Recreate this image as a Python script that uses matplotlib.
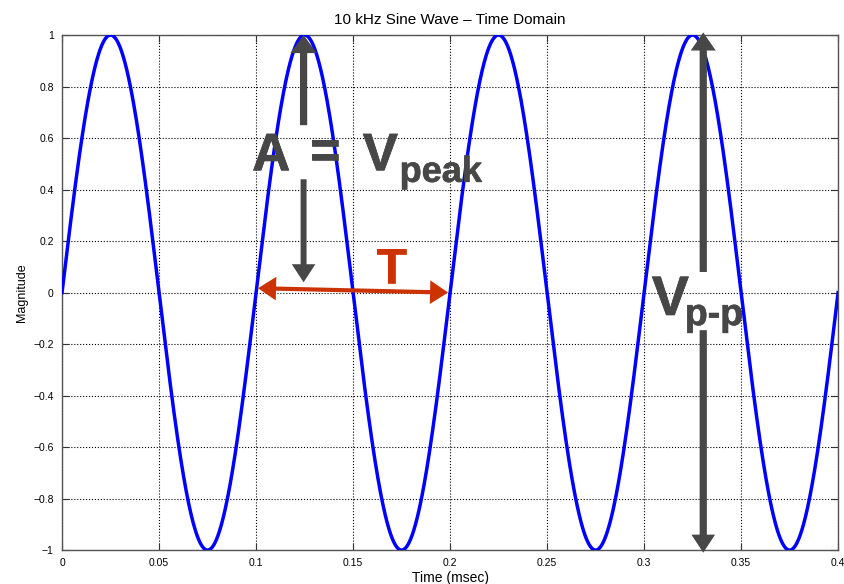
import numpy as np
import matplotlib
matplotlib.use('Agg')
from matplotlib import pyplot as plt
import matplotlib.patheffects as pe

# Signal parameters (time axis in msec)
freq_khz = 10.0
amplitude = 1.0
t_start, t_stop = 0.0, 0.4
n_points = 2001

x_ticks = [0, 0.05, 0.1, 0.15, 0.2, 0.25, 0.3, 0.35, 0.4]
x_tick_labels = ['0', '0.05', '0.1', '0.15', '0.2', '0.25', '0.3', '0.35', '0.4']
y_ticks = [-1, -0.8, -0.6, -0.4, -0.2, 0, 0.2, 0.4, 0.6, 0.8, 1]
y_tick_labels = ['\u22121', '\u22120.8', '\u22120.6', '\u22120.4', '\u22120.2', '0',
                 '0.2', '0.4', '0.6', '0.8', '1']

t = np.linspace(t_start, t_stop, n_points)
v = amplitude * np.sin(2 * np.pi * freq_khz * t)

plt.rcParams['font.family'] = ['Liberation Sans', 'DejaVu Sans']

fig = plt.figure(figsize=(8.44, 5.84), dpi=100)
ax = fig.add_axes([0.0735, 0.058, 0.9195, 0.882])

ax.plot(t, v, color='#0000ff', linewidth=2.5, zorder=3)

ax.set_xlim(t_start, t_stop)
ax.set_ylim(-amplitude, amplitude)
ax.set_xticks(x_ticks)
ax.set_xticklabels(x_tick_labels)
ax.set_yticks(y_ticks)
ax.set_yticklabels(y_tick_labels)
ax.tick_params(direction='in', length=5, width=0.8, labelsize=7.5,
               top=True, right=True, colors='#333333', labelcolor='black', pad=6)
ax.grid(True, linestyle=':', color='black', linewidth=0.8)
for s in ax.spines.values():
    s.set_color('#555555')
    s.set_linewidth(1.0)

ax.set_title('10 kHz Sine Wave \u2013 Time Domain', fontsize=11, pad=8)
ax.set_xlabel('Time (msec)', fontsize=10, labelpad=2)
ax.set_ylabel('Magnitude', fontsize=9, labelpad=4)

gray = '#474747'
red = '#cc3300'


def arrow(x0, y0, x1, y1, color, tail, hw=1.8, hl=1.3):
    ax.annotate('', xy=(x1, y1), xytext=(x0, y0), annotation_clip=False,
                arrowprops=dict(arrowstyle='simple,head_length=%g,head_width=%g,tail_width=%g'
                                % (hl, hw, tail),
                                color=color, lw=0, shrinkA=0, shrinkB=0,
                                mutation_scale=10), zorder=4)


def label(x, y, s, size, color, **kw):
    ax.text(x, y, s, fontsize=size, fontweight='bold', color=color, zorder=5,
            path_effects=[pe.withStroke(linewidth=0.5, foreground=color)], **kw)


# A = Vpeak arrows
arrow(0.1245, 0.65, 0.1245, 1.0, gray, 0.52, hw=1.9)
arrow(0.1245, 0.44, 0.1245, 0.04, gray, 0.43, hw=1.7)
label(0.098, 0.475, 'A', 38, gray)
label(0.1356, 0.54, '=', 38, gray, ha='center', va='center')
label(0.155, 0.475, 'V', 38, gray)
label(0.174, 0.43, 'peak', 26, gray)

# Period arrow (double headed, drawn from the middle outwards)
arrow(0.15, 0.0085, 0.101, 0.017, red, 0.3, hw=1.7)
arrow(0.15, 0.0085, 0.199, 0.0, red, 0.3, hw=1.7)
label(0.162, 0.037, 'T', 36, red)

# Vp-p arrows
arrow(0.3305, 0.08, 0.3305, 1.01, gray, 0.52, hw=1.8)
arrow(0.3305, -0.146, 0.3305, -1.01, gray, 0.52, hw=1.7)
label(0.304, -0.087, 'V', 40, gray)
label(0.321, -0.126, 'p-p', 27, gray)

plt.savefig('out.png', dpi=100)
